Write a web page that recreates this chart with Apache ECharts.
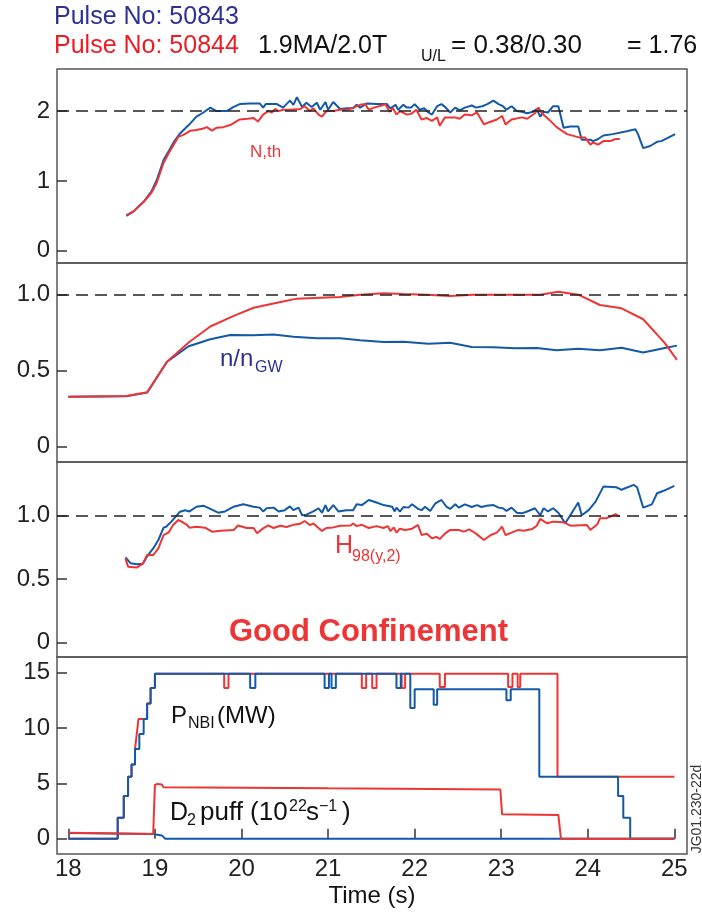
<!DOCTYPE html>
<html>
<head>
<meta charset="utf-8">
<script src="https://cdn.jsdelivr.net/npm/echarts@6/dist/echarts.min.js"></script>
<style>
  html, body { margin: 0; padding: 0; background: #fff; }
  #chart { width: 702px; height: 914px; }
</style>
</head>
<body>
<div id="chart"></div>
<script>
// ---- Pulse 50843 (blue) and 50844 (red) time traces ----
const BLUE = '#1259a8';
const RED = '#ee3535';
const INDIGO = '#2e3192';
const FONT = '"Liberation Sans", Arial, Helvetica, sans-serif';

const timeTicks = [18, 19, 20, 21, 22, 23, 24, 25];
const betaTicks = [0, 1, 2];
const densityTicks = [0, 0.5, 1.0];
const hTicks = [0, 0.5, 1.0];
const powerTicks = [0, 5, 10, 15];

// Normalised thermal beta
const betaTime50843 = [18.67,18.75,18.87,18.96,19.02,19.10,19.17,19.22,19.29,19.39,19.48,19.56,19.64,19.71,19.83,19.91,19.98,20.10,20.21,20.25,20.28,20.41,20.48,20.56,20.60,20.64,20.70,20.75,20.81,20.87,20.91,20.97,21.00,21.06,21.14,21.22,21.29,21.33,21.37,21.45,21.56,21.68,21.72,21.78,21.81,21.87,21.91,21.96,22.00,22.06,22.11,22.16,22.20,22.26,22.31,22.36,22.41,22.47,22.52,22.58,22.66,22.71,22.78,22.84,22.91,22.97,23.02,23.06,23.12,23.18,23.24,23.30,23.37,23.41,23.45,23.49,23.54,23.60,23.66,23.72,23.80,23.89,23.93,24.03,24.06,24.12,24.18,24.29,24.45,24.55,24.58,24.64,24.72,24.80,24.85,25.01];
const beta50843 = [0.50,0.56,0.70,0.85,1.01,1.30,1.45,1.56,1.68,1.80,1.92,1.98,2.05,2.00,2.00,2.06,2.10,2.11,2.11,2.05,2.10,2.10,2.05,2.15,2.09,2.20,2.06,2.12,2.06,2.12,2.02,2.13,2.02,2.13,2.03,2.04,2.04,2.09,2.05,2.11,2.10,2.10,2.04,2.09,2.02,2.09,2.05,2.05,2.10,2.02,2.04,1.98,1.95,2.07,2.10,2.05,1.98,2.05,2.01,2.05,2.08,2.05,2.07,2.10,2.15,2.10,2.07,2.02,2.07,2.00,1.99,1.97,1.99,2.03,1.92,1.99,1.98,2.07,2.07,1.76,1.78,1.78,1.59,1.59,1.57,1.60,1.65,1.67,1.71,1.74,1.67,1.47,1.50,1.56,1.57,1.67];
const betaTime50844 = [18.67,18.75,18.87,18.96,19.02,19.10,19.17,19.27,19.33,19.41,19.48,19.56,19.60,19.66,19.71,19.79,19.87,19.98,20.07,20.14,20.19,20.25,20.31,20.35,20.39,20.43,20.48,20.56,20.68,20.73,20.79,20.83,20.89,20.93,20.98,21.06,21.14,21.22,21.29,21.37,21.43,21.47,21.53,21.62,21.66,21.71,21.75,21.79,21.83,21.91,21.96,22.02,22.08,22.14,22.20,22.26,22.29,22.35,22.47,22.52,22.58,22.66,22.72,22.80,22.86,22.95,23.01,23.05,23.12,23.24,23.30,23.39,23.43,23.47,23.56,23.64,23.76,23.91,23.97,24.03,24.06,24.12,24.18,24.26,24.32,24.37];
const beta50844 = [0.51,0.56,0.70,0.83,0.97,1.26,1.42,1.63,1.66,1.72,1.73,1.75,1.77,1.72,1.76,1.77,1.80,1.88,1.89,1.90,1.85,1.95,2.00,1.98,2.03,2.00,2.02,2.02,2.03,2.07,2.00,2.04,1.95,1.92,2.00,2.00,2.02,2.02,2.05,2.09,2.10,2.02,2.05,2.08,2.10,1.99,2.04,1.95,2.00,1.95,1.96,2.02,1.88,1.90,1.86,1.91,1.79,1.91,1.91,1.89,1.95,1.94,1.98,1.81,1.84,1.88,1.93,1.81,1.88,1.91,1.89,1.97,2.05,1.97,1.87,1.77,1.67,1.62,1.62,1.52,1.55,1.52,1.57,1.57,1.60,1.60];

// Greenwald fraction n/nGW
const densityTime50843 = [18.00,18.67,18.91,19.14,19.39,19.64,19.87,20.14,20.37,20.60,20.87,21.14,21.37,21.64,21.87,22.16,22.41,22.66,22.91,23.16,23.41,23.64,23.89,24.14,24.39,24.64,24.89,25.03];
const density50843 = [0.327,0.330,0.354,0.558,0.660,0.706,0.734,0.732,0.738,0.723,0.712,0.712,0.700,0.688,0.690,0.677,0.683,0.655,0.653,0.646,0.648,0.633,0.644,0.633,0.650,0.618,0.648,0.664];
const densityTime50844 = [18.00,18.67,18.91,19.14,19.40,19.64,19.91,20.14,20.41,20.64,20.91,21.14,21.37,21.64,21.87,22.14,22.41,22.68,22.91,23.18,23.45,23.66,23.89,24.14,24.39,24.64,24.89,25.03];
const density50844 = [0.327,0.332,0.356,0.558,0.690,0.790,0.860,0.914,0.947,0.974,0.980,0.985,1.000,1.009,1.004,1.000,0.992,1.000,1.000,1.000,1.000,1.020,1.000,0.932,0.910,0.838,0.680,0.570];

// Confinement enhancement factor H98(y,2)
const hTime50843 = [18.66,18.72,18.79,18.86,18.92,18.98,19.04,19.10,19.13,19.15,19.19,19.25,19.29,19.35,19.40,19.48,19.56,19.67,19.73,19.81,19.91,20.02,20.14,20.21,20.25,20.29,20.37,20.43,20.50,20.56,20.60,20.66,20.70,20.75,20.83,20.89,20.93,20.97,21.00,21.06,21.12,21.21,21.29,21.33,21.39,21.47,21.56,21.64,21.74,21.77,21.79,21.83,21.87,21.93,21.97,22.04,22.08,22.12,22.18,22.24,22.31,22.37,22.41,22.47,22.51,22.58,22.66,22.72,22.77,22.83,22.91,22.97,23.02,23.06,23.12,23.18,23.24,23.30,23.39,23.45,23.49,23.54,23.60,23.66,23.74,23.89,23.93,24.01,24.09,24.18,24.33,24.39,24.53,24.57,24.64,24.74,24.80,24.87,25.00];
const h50843 = [0.670,0.623,0.615,0.620,0.688,0.740,0.806,0.903,0.910,0.900,0.950,0.997,1.028,1.040,1.030,1.067,1.075,1.040,1.020,1.030,1.067,1.086,1.067,1.060,1.030,1.055,1.060,1.030,1.040,1.070,1.040,1.060,1.000,1.005,1.030,1.055,1.020,1.080,1.030,1.080,1.030,1.040,1.040,1.086,1.080,1.120,1.100,1.080,1.067,1.030,1.060,1.028,1.065,1.060,1.086,1.050,1.040,1.067,1.033,1.094,1.120,1.065,1.050,1.086,1.060,1.086,1.065,1.080,1.065,1.075,1.080,1.060,1.055,1.034,1.060,1.020,1.015,1.030,1.055,1.000,1.055,1.030,1.055,1.020,0.937,1.100,1.000,1.040,1.107,1.225,1.220,1.200,1.238,1.220,1.060,1.086,1.173,1.190,1.230];
const hTime50844 = [18.66,18.69,18.79,18.86,18.91,18.98,19.04,19.10,19.16,19.21,19.27,19.31,19.37,19.40,19.48,19.58,19.66,19.76,19.91,19.96,20.06,20.14,20.18,20.25,20.31,20.37,20.45,20.52,20.60,20.68,20.73,20.79,20.83,20.89,20.93,20.98,21.06,21.14,21.26,21.29,21.33,21.39,21.47,21.56,21.64,21.69,21.72,21.76,21.79,21.83,21.89,21.97,22.04,22.08,22.14,22.20,22.25,22.29,22.35,22.41,22.51,22.57,22.63,22.69,22.72,22.80,22.88,22.95,23.01,23.05,23.12,23.20,23.26,23.36,23.41,23.45,23.53,23.60,23.72,23.80,23.99,24.03,24.11,24.14,24.21,24.26,24.32,24.37];
const h50844 = [0.660,0.597,0.590,0.620,0.688,0.688,0.740,0.845,0.866,0.924,0.963,0.950,0.924,0.903,0.910,0.903,0.871,0.878,0.885,0.920,0.900,0.900,0.859,0.897,0.920,0.900,0.918,0.908,0.925,0.934,0.955,0.924,0.935,0.900,0.877,0.900,0.905,0.918,0.920,0.935,0.915,0.925,0.900,0.915,0.900,0.915,0.877,0.905,0.864,0.895,0.885,0.895,0.924,0.845,0.855,0.820,0.830,0.814,0.856,0.885,0.885,0.872,0.890,0.865,0.850,0.806,0.845,0.864,0.911,0.845,0.864,0.885,0.878,0.893,0.918,0.971,0.937,0.950,0.945,0.918,0.924,0.885,0.929,0.976,0.976,0.990,1.008,0.990];

// Neutral beam power (MW): times where the level changes, level held until the next time
const nbiTime50843 = [18.00,18.57,18.64,18.69,18.73,18.77,18.82,18.87,18.91,18.95,19.00,20.10,20.16,20.96,21.01,21.04,21.09,21.79,21.84,21.95,22.00,22.22,22.26,23.06,23.11,23.44,24.35,24.41,24.49,25.00];
const nbi50843 = [0,1.9,3.86,5.6,6.7,8.1,9.45,10.8,12.2,13.6,14.9,13.6,14.9,13.6,14.9,13.6,14.9,13.6,14.9,11.8,13.5,12.1,13.5,12.5,13.5,5.6,3.86,1.9,0,0];
const nbiTime50844 = [18.00,18.57,18.64,18.69,18.73,18.77,18.79,18.81,18.91,18.95,19.00,19.80,19.85,21.39,21.44,21.51,21.56,21.85,21.89,22.29,22.35,23.08,23.13,23.19,23.22,23.65,25.00];
const nbi50844 = [0,1.9,3.86,5.6,6.7,8.1,9.45,10.8,12.2,13.6,14.9,13.6,14.9,13.6,14.9,13.6,14.9,13.6,14.9,13.7,14.9,13.7,14.9,13.7,14.9,5.6,5.6];

// D2 gas puff rate (1e22 /s)
const puffTime50843 = [18.00,18.98,19.00,19.08,19.12,25.00];
const puff50843 = [0.52,0.42,0.30,0.30,0,0];
const puffTime50844 = [18.00,18.98,19.00,19.03,19.08,19.10,21.00,22.99,23.01,23.66,23.69,25.00];
const puff50844 = [0.55,0.42,4.85,4.95,4.90,4.65,4.55,4.45,2.20,2.15,0,0];

const zip = (t, v) => t.map((x, i) => [x, v[i]]);

const chart = echarts.init(document.getElementById('chart'), null, { renderer: 'canvas' });

const X_MIN = 17.869, X_MAX = 25.146;
const grids = [
  { left: 57, top: 69, width: 630, height: 194 },
  { left: 57, top: 263, width: 630, height: 199 },
  { left: 57, top: 462, width: 630, height: 195 },
  { left: 57, top: 657, width: 630, height: 197 }
].map(g => Object.assign({ show: true, borderColor: '#555', borderWidth: 1.5, backgroundColor: 'transparent' }, g));

const yRanges = [[-0.176, 2.603], [-0.1036, 1.209], [-0.112, 1.418], [-1.38, 16.41]];
const yTicks = [betaTicks, densityTicks, hTicks, powerTicks];
const yFormat = [
  v => String(v),
  v => (v === 0 ? '0' : v.toFixed(1)),
  v => (v === 0 ? '0' : v.toFixed(1)),
  v => String(v)
];

const yAxes = yRanges.map((r, i) => ({
  type: 'value', gridIndex: i, min: r[0], max: r[1],
  axisLine: { show: false },
  splitLine: { show: false },
  axisTick: { show: true, inside: true, length: 10, customValues: yTicks[i], lineStyle: { color: '#333', width: 1.5 } },
  axisLabel: { customValues: yTicks[i], formatter: yFormat[i], fontSize: 24, fontFamily: FONT, color: '#222', margin: 7 }
}));

const xAxes = [0, 1, 2, 3].map(i => ({
  type: 'value', gridIndex: i, min: X_MIN, max: X_MAX,
  axisLine: { show: false },
  splitLine: { show: false },
  axisTick: { show: i === 3, inside: true, length: 10, customValues: timeTicks, lineStyle: { color: '#333', width: 1.5 } },
  axisLabel: { show: i === 3, customValues: timeTicks, fontSize: 24, fontFamily: FONT, color: '#222', margin: 3 }
}));

function trace(idx, data, color, extra) {
  return Object.assign({
    type: 'line', xAxisIndex: idx, yAxisIndex: idx, data: data,
    showSymbol: false, symbol: 'none', silent: true, animation: false,
    lineStyle: { color: color, width: 2 }, itemStyle: { color: color }
  }, extra || {});
}

function dashedAt(value) {
  return {
    silent: true, symbol: ['none', 'none'], label: { show: false },
    lineStyle: { type: [12, 7], color: '#222', width: 1.5 },
    data: [{ yAxis: value }]
  };
}

const series = [
  trace(0, zip(betaTime50843, beta50843), BLUE, { markLine: dashedAt(2) }),
  trace(0, zip(betaTime50844, beta50844), RED),
  trace(1, zip(densityTime50843, density50843), BLUE, { markLine: dashedAt(1) }),
  trace(1, zip(densityTime50844, density50844), RED),
  trace(2, zip(hTime50843, h50843), BLUE, { markLine: dashedAt(1) }),
  trace(2, zip(hTime50844, h50844), RED),
  trace(3, zip(nbiTime50844, nbi50844), RED, { step: 'end' }),
  trace(3, zip(nbiTime50843, nbi50843), BLUE, { step: 'end' }),
  trace(3, zip(puffTime50843, puff50843), BLUE),
  trace(3, zip(puffTime50844, puff50844), RED)
];

// text placed by its alphabetic baseline
function label(text, x, base, size, color, opt) {
  opt = opt || {};
  return {
    type: 'text', x: x, y: base - 0.34 * size, silent: true,
    rotation: opt.rotation || 0,
    style: {
      text: text, fill: color,
      font: (opt.bold ? 'bold ' : '') + size + 'px ' + FONT,
      align: opt.align || 'left', verticalAlign: 'middle'
    }
  };
}

const graphics = [
  label('Pulse No: 50843', 54, 26, 25, INDIGO),
  label('Pulse No: 50844', 54, 55, 25, '#ed1c24'),
  label('1.9MA/2.0T', 258, 55, 25, '#111'),
  label('U/L', 421, 62, 16, '#111'),
  label('= 0.38/0.30', 451, 55, 26, '#111'),
  label('= 1.76', 627, 55, 25, '#111'),

  label('N,th', 250, 158, 17, RED),

  label('n/n', 220, 368, 24, INDIGO),
  label('GW', 255, 373, 16, INDIGO),

  label('H', 335, 555, 25, RED),
  label('98(y,2)', 352, 562, 16, RED),

  label('Good Confinement', 229, 643, 31, RED, { bold: true }),

  label('P', 171, 725, 24, '#111'),
  label('NBI', 188, 729, 16, '#111'),
  label('(MW)', 217, 725, 24, '#111'),

  label('D', 170, 822, 25, '#111'),
  label('2', 187, 826, 16, '#111'),
  label('puff (10', 200, 822, 26, '#111'),
  label('22', 289, 812, 16, '#111'),
  label('s', 306, 822, 26, '#111'),
  label('\u22121', 319, 812, 16, '#111'),
  label(')', 342, 822, 26, '#111'),

  label('Time (s)', 372, 905, 24, '#111', { align: 'center' }),

  {
    type: 'text', x: 697, y: 809, rotation: Math.PI / 2, silent: true,
    style: { text: 'JG01.230-22d', fill: '#333', font: '14px ' + FONT, align: 'center', verticalAlign: 'middle' }
  }
];

chart.setOption({
  animation: false,
  backgroundColor: '#fff',
  grid: grids,
  xAxis: xAxes,
  yAxis: yAxes,
  series: series,
  graphic: graphics
});
</script>
</body>
</html>
